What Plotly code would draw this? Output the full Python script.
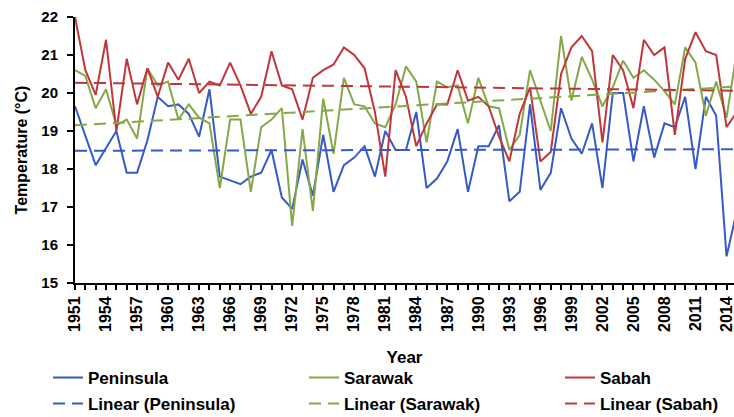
import plotly.graph_objects as go

years = list(range(1951, 2016))

peninsula = [19.65, 18.9, 18.1, 18.55, 19.0, 17.9, 17.9, 18.75, 19.9, 19.65,
             19.7, 19.45, 18.85, 20.1, 17.8, 17.7, 17.6, 17.8, 17.9, 18.5,
             17.25, 16.95, 18.25, 17.3, 18.9, 17.4, 18.1, 18.3, 18.6, 17.8,
             19.0, 18.5, 18.5, 19.5, 17.5, 17.75, 18.2, 19.05, 17.4, 18.6,
             18.6, 19.15, 17.15, 17.4, 19.7, 17.45, 17.9, 19.6, 18.8, 18.4,
             19.2, 17.5, 20.0, 20.0, 18.2, 19.65, 18.3, 19.2, 19.1, 19.9,
             18.0, 19.9, 19.4, 15.7, 16.9]

sarawak = [20.6, 20.45, 19.6, 20.1, 19.15, 19.3, 18.8, 20.65, 20.2, 20.3,
           19.3, 19.7, 19.35, 19.2, 17.5, 19.3, 19.3, 17.4, 19.1, 19.3,
           19.6, 16.5, 19.05, 16.9, 19.85, 18.4, 20.4, 19.7, 19.65, 19.2,
           19.1, 19.7, 20.7, 20.3, 18.7, 20.3, 20.15, 20.2, 19.2, 20.4,
           19.65, 19.6, 18.5, 18.9, 20.6, 19.8, 19.0, 21.5, 19.8, 20.95,
           20.35, 19.65, 20.15, 20.85, 20.4, 20.6, 20.35, 20.05, 19.7, 21.2,
           20.8, 19.4, 20.3, 19.35, 21.1]

sabah = [22.0, 20.6, 19.95, 21.4, 19.0, 20.9, 19.7, 20.65, 19.9, 20.8,
         20.35, 20.9, 20.0, 20.3, 20.2, 20.8, 20.2, 19.45, 19.9, 21.1,
         20.2, 20.1, 19.3, 20.4, 20.6, 20.75, 21.2, 21.0, 20.65, 19.5,
         17.8, 20.6, 19.9, 18.6, 19.2, 19.7, 19.7, 20.6, 19.8, 19.9,
         19.65, 18.85, 18.2, 19.45, 20.15, 18.2, 18.45, 20.5, 21.2, 21.5,
         21.1, 18.7, 21.0, 20.6, 19.6, 21.4, 21.0, 21.2, 18.9, 20.9,
         21.6, 21.1, 21.0, 19.1, 19.5]

# linear trend endpoints (1951, 2015)
trend_years = [1951, 2015]
trend_peninsula = [18.48, 18.52]
trend_sarawak = [19.15, 20.17]
trend_sabah = [20.27, 20.06]

tick_years = list(range(1951, 2015, 3))
tick_labels = [str(y) for y in tick_years]

BLUE = "#3759C8"
GREEN = "#84A848"
RED = "#C0363A"
FONT = "Liberation Sans, Arial, sans-serif"

fig = go.Figure()
fig.add_trace(go.Scatter(x=years, y=peninsula, mode="lines", name="Peninsula",
                         line=dict(color=BLUE, width=2), legend="legend", legendwidth=211))
fig.add_trace(go.Scatter(x=years, y=sarawak, mode="lines", name="Sarawak",
                         line=dict(color=GREEN, width=2), legend="legend", legendwidth=211))
fig.add_trace(go.Scatter(x=years, y=sabah, mode="lines", name="Sabah",
                         line=dict(color=RED, width=2), legend="legend", legendwidth=130))
fig.add_trace(go.Scatter(x=trend_years, y=trend_peninsula, mode="lines", name="Linear (Peninsula)",
                         line=dict(color=BLUE, width=2, dash="12px,7px"), legend="legend2", legendwidth=211))
fig.add_trace(go.Scatter(x=trend_years, y=trend_sarawak, mode="lines", name="Linear (Sarawak)",
                         line=dict(color=GREEN, width=2, dash="12px,7px"), legend="legend2", legendwidth=211))
fig.add_trace(go.Scatter(x=trend_years, y=trend_sabah, mode="lines", name="Linear (Sabah)",
                         line=dict(color=RED, width=2, dash="12px,7px"), legend="legend2", legendwidth=130))

legend_font = dict(family=FONT, size=17, color="black", weight="bold")

fig.update_layout(
    width=734, height=417,
    margin=dict(l=75, r=0, t=17, b=134, autoexpand=False),
    paper_bgcolor="white", plot_bgcolor="white",
    font=dict(family=FONT, color="black"),
    showlegend=True,
    legend=dict(orientation="h", x=-0.041, xanchor="left", y=-0.357, yanchor="middle",
                font=legend_font, entrywidthmode="pixels", bgcolor="rgba(0,0,0,0)"),
    legend2=dict(orientation="h", x=-0.041, xanchor="left", y=-0.455, yanchor="middle",
                 font=legend_font, entrywidthmode="pixels", bgcolor="rgba(0,0,0,0)"),
    xaxis=dict(
        range=[1951, 2014.72],
        tickmode="array", tickvals=tick_years, ticktext=tick_labels,
        tickangle=-90, ticks="outside", ticklen=5, tickwidth=1.5, tickcolor="black",
        ticklabeloverflow="allow",
        minor=dict(tickmode="linear", tick0=1951, dtick=1, ticks="outside", ticklen=5,
                   tickwidth=1.5, tickcolor="black", showgrid=False),
        tickfont=dict(family=FONT, size=16, color="black", weight="bold"),
        showline=True, linecolor="black", linewidth=2,
        showgrid=False, zeroline=False,
        title=dict(text="Year", font=dict(family=FONT, size=17, color="black", weight="bold"),
                   standoff=20),
    ),
    yaxis=dict(
        range=[15, 22], dtick=1, tick0=15,
        ticks="outside", ticklen=6, tickwidth=1.5, tickcolor="black",
        tickfont=dict(family=FONT, size=15, color="black", weight="bold"),
        ticklabelstandoff=6,
        showline=True, linecolor="black", linewidth=2,
        showgrid=False, zeroline=False,
        title=dict(text="Temperature (°C)", font=dict(family=FONT, size=16, color="black", weight="bold"),
                   standoff=10),
    ),
)

fig.write_html("out.html")
